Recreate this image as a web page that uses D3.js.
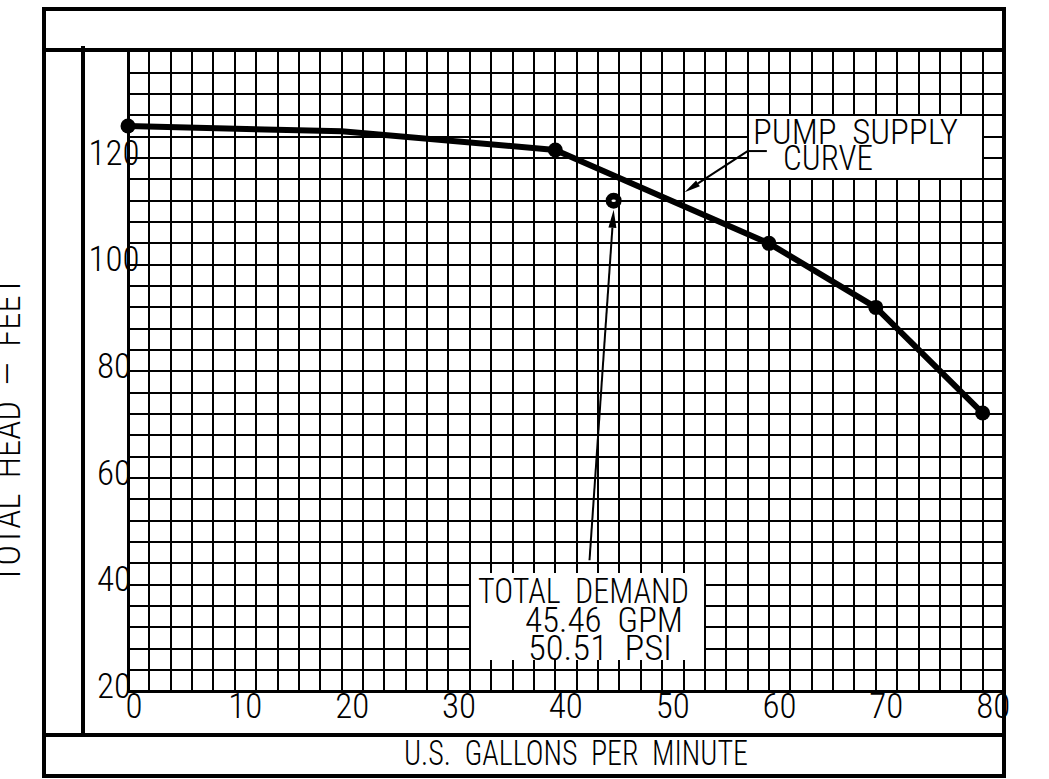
<!DOCTYPE html>
<html><head><meta charset="utf-8">
<script src="https://cdn.jsdelivr.net/npm/d3@7"></script>
<style>html,body{margin:0;padding:0;background:#fff;} svg{display:block;}</style>
</head><body>
<svg id="c" width="1049" height="779"></svg>
<script>
// ---------- DATA ----------
const xTickLabels = [0, 10, 20, 30, 40, 50, 60, 70, 80];
const yTickLabels = [20, 40, 60, 80, 100, 120];
const curveGpm  = [0, 20, 40, 60, 70, 80];
const curveHead = [126, 125, 121.5, 104, 92, 72.2];
const markerGpm  = [0, 40, 60, 70, 80];
const markerHead = [126, 121.5, 104, 92, 72.2];
const demandGpm  = [45.46];
const demandHead = [112];
const demandText = ["TOTAL  DEMAND", "45.46  GPM", "50.51  PSI"];
const supplyText = ["PUMP  SUPPLY", "CURVE"];
const xTitle = "U.S.  GALLONS  PER  MINUTE";
const yTitle = "TOTAL  HEAD  —  FEET";

// ---------- LAYOUT ----------
const FONT = "'Roboto Condensed','DejaVu Sans',sans-serif";
const FW = 300;
const FS = 35;
const svg = d3.select("#c");
const x = d3.scaleLinear().domain([0, 82]).range([128, 1004]);
const y = d3.scaleLinear().domain([20, 140]).range([691.5, 51.3]);
const gridX = d3.range(0, 82.01, 2);
const gridY = d3.range(20, 140.01, 4);
const R = v => Math.round(v);

// grid
const g = svg.append("g").attr("shape-rendering", "crispEdges");
g.selectAll("line.gx").data(gridX).join("line").attr("class", "gx")
  .attr("x1", d => R(x(d))).attr("x2", d => R(x(d)))
  .attr("y1", R(y(140))).attr("y2", R(y(20)))
  .attr("stroke", "#000").attr("stroke-width", 2);
g.selectAll("line.gy").data(gridY).join("line").attr("class", "gy")
  .attr("y1", d => R(y(d))).attr("y2", d => R(y(d)))
  .attr("x1", R(x(0))).attr("x2", R(x(82)))
  .attr("stroke", "#000").attr("stroke-width", 2);

// white label masks (grid lines at their edges stay visible)
function mask(x0, x1, y0, y1) {
  svg.append("rect").attr("shape-rendering", "crispEdges")
    .attr("x", R(x(x0)) + 1).attr("width", R(x(x1)) - R(x(x0)) - 2)
    .attr("y", R(y(y1))).attr("height", R(y(y0)) - R(y(y1)))
    .attr("fill", "#fff");
}
mask(58, 80, 116.2, 127.8);
mask(32, 54, 25.9, 42.2);

// plot borders
svg.append("line").attr("x1", R(x(0)) + 0.5).attr("x2", R(x(0)) + 0.5).attr("y1", R(y(140))).attr("y2", R(y(20)))
  .attr("stroke", "#000").attr("stroke-width", 3);
svg.append("line").attr("x1", R(x(0))).attr("x2", R(x(82))).attr("y1", y(20)).attr("y2", y(20))
  .attr("stroke", "#000").attr("stroke-width", 3);

// pump curve
const pts = curveGpm.map((d, i) => [d, curveHead[i]]);
svg.append("path").datum(pts)
  .attr("d", d3.line().x(d => x(d[0])).y(d => y(d[1])))
  .attr("fill", "none").attr("stroke", "#000").attr("stroke-width", 6)
  .attr("stroke-linejoin", "round");
svg.selectAll("circle.m").data(markerGpm.map((d, i) => [d, markerHead[i]])).join("circle")
  .attr("class", "m")
  .attr("cx", d => x(d[0])).attr("cy", d => y(d[1])).attr("r", 7.5).attr("fill", "#000");

// demand point
const dp = demandGpm.map((d, i) => [d, demandHead[i]]);
svg.selectAll("circle.d").data(dp).join("circle").attr("class", "d")
  .attr("cx", d => x(d[0])).attr("cy", d => y(d[1])).attr("r", 8).attr("fill", "#000");
svg.selectAll("ellipse.d").data(dp).join("ellipse").attr("class", "d")
  .attr("cx", d => x(d[0])).attr("cy", d => y(d[1])).attr("rx", 2.2).attr("ry", 1.3).attr("fill", "#fff");

// arrows
function arrow(fx, fy, tx, ty, L, w, sw) {
  const X0 = x(fx), Y0 = y(fy), X1 = x(tx), Y1 = y(ty);
  const len = Math.hypot(X1 - X0, Y1 - Y0), ux = (X1 - X0) / len, uy = (Y1 - Y0) / len;
  const bx = X1 - ux * L, by = Y1 - uy * L, px = -uy, py = ux;
  svg.append("line").attr("x1", X0).attr("y1", Y0).attr("x2", bx).attr("y2", by)
    .attr("stroke", "#000").attr("stroke-width", sw);
  svg.append("path")
    .attr("d", `M${X1},${Y1}L${bx + px * w},${by + py * w}L${bx - px * w},${by - py * w}Z`)
    .attr("fill", "#000");
}
arrow(43.2, 44.6, 45.46, 110.3, 18, 4, 2);
arrow(58.0, 121.3, 52.1, 113.6, 16, 3.5, 2);
svg.append("line").attr("x1", x(58.0)).attr("x2", x(59.8)).attr("y1", y(121.3)).attr("y2", y(121.3))
  .attr("stroke", "#000").attr("stroke-width", 2);

// annotation text
function txt(s, X, Y, len, anchor) {
  return svg.append("text").attr("x", X).attr("y", Y).text(s)
    .attr("font-family", FONT).attr("font-weight", FW).attr("font-size", FS).attr("fill", "#000")
    .attr("text-anchor", anchor || "start").style("white-space", "pre")
    .attr("textLength", len).attr("lengthAdjust", "spacingAndGlyphs");
}
txt(supplyText[0], 753, 144, 205);
txt(supplyText[1], 783, 170, 90);
txt(demandText[0], 478, 603, 211);
txt(demandText[1], 525, 632, 158);
txt(demandText[2], 528, 660, 144);

// frame
const fr = svg.append("g").attr("stroke", "#000").attr("stroke-width", 4).attr("fill", "none")
  .attr("shape-rendering", "crispEdges");
fr.append("rect").attr("x", 44).attr("y", 9).attr("width", 960).attr("height", 767);
fr.append("line").attr("x1", 44).attr("x2", 1004).attr("y1", 50).attr("y2", 50);
fr.append("line").attr("x1", 44).attr("x2", 1004).attr("y1", 735).attr("y2", 735);
fr.append("line").attr("x1", 83).attr("x2", 83).attr("y1", 46).attr("y2", 735);

// axes (labels only)
const ax = svg.append("g").attr("transform", `translate(0,${y(20)})`)
  .call(d3.axisBottom(x).tickValues(xTickLabels).tickSize(0).tickFormat(d3.format("d")));
ax.select(".domain").remove();
ax.selectAll("text").attr("font-family", FONT).attr("font-weight", FW).attr("font-size", FS).attr("fill", "#000")
  .attr("text-anchor", "start").attr("dy", null).attr("y", 718 - y(20))
  .attr("x", d => (String(d).length > 1 ? -7 : -3));
ax.attr("font-family", null).attr("font-size", null);

const ay = svg.append("g").attr("transform", `translate(${x(0)},0)`)
  .call(d3.axisLeft(y).tickValues(yTickLabels).tickSize(0).tickFormat(d3.format("d")));
ay.select(".domain").remove();
ay.selectAll("text").attr("font-family", FONT).attr("font-weight", FW).attr("font-size", FS).attr("fill", "#000")
  .attr("text-anchor", "middle").attr("dy", null).attr("y", 6).attr("x", -14);
ay.attr("font-family", null).attr("font-size", null);

// axis titles
txt(xTitle, 576, 765, 344, "middle");
svg.append("text").attr("transform", "translate(20,430) rotate(-90)").text(yTitle)
  .attr("font-family", FONT).attr("font-weight", FW).attr("font-size", FS).attr("fill", "#000")
  .attr("text-anchor", "middle").style("white-space", "pre")
  .attr("textLength", 306).attr("lengthAdjust", "spacingAndGlyphs");
</script>
</body></html>
